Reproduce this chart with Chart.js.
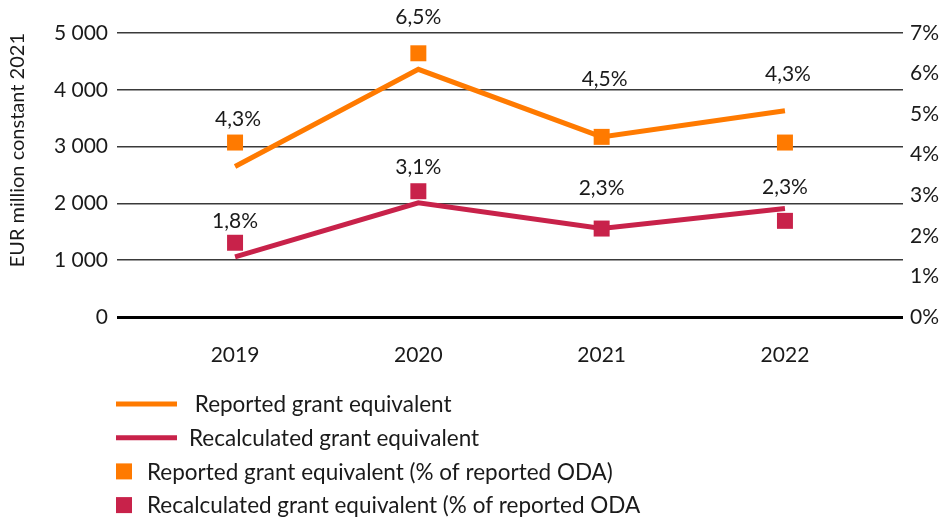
<!DOCTYPE html>
<html><head><meta charset="utf-8">
<script src="https://cdn.jsdelivr.net/npm/chart.js@4/dist/chart.umd.min.js"></script>
<style>html,body{margin:0;padding:0;background:#fff}#wrap{width:942px;height:520px;position:relative}</style>
</head><body><div id="wrap"><canvas id="c" width="942" height="520"></canvas></div>
<script>
const years = ['2019', '2020', '2021', '2022'];
const reportedGE = [2650, 4360, 3170, 3630];
const recalculatedGE = [1060, 2010, 1560, 1910];
const reportedPct = [4.3, 6.5, 4.44, 4.3];
const recalculatedPct = [1.83, 3.1, 2.18, 2.37];
const reportedPctLabels = ['4,3%', '6,5%', '4,5%', '4,3%'];
const recalculatedPctLabels = ['1,8%', '3,1%', '2,3%', '2,3%'];
const leftTicks = [0, 1000, 2000, 3000, 4000, 5000];
const rightTicks = [0, 1, 2, 3, 4, 5, 6, 7];
const seriesNames = [' Reported grant equivalent', 'Recalculated grant equivalent',
  'Reported grant equivalent (% of reported ODA)', 'Recalculated grant equivalent (% of reported ODA'];
const axisTitle = 'EUR million constant 2021';

const ORANGE = '#FF7A00', RED = '#C8224A', TEXT = '#1a1a1a';
const FONT = 'Lato';
const FS = 21;
const LEG_FS = 22.5;

const pts = arr => arr.map((v, i) => ({x: i, y: v}));
const fmtThousands = v => String(v).replace(/\B(?=(\d{3})+(?!\d))/g, '\u00a0');

const labelOffsets = [
  {dx: [3, 0, 3, 3], dy: [-23, -36, -58, -68]},
  {dx: [0, 0, 0, 0], dy: [-22, -24, -40, -34]}
];

const pctLabelsPlugin = {
  id: 'pctLabels',
  afterDatasetsDraw(chart) {
    const ctx = chart.ctx;
    const sets = [[2, reportedPctLabels, labelOffsets[0]], [3, recalculatedPctLabels, labelOffsets[1]]];
    ctx.save();
    ctx.font = FS + 'px ' + FONT;
    ctx.fillStyle = TEXT;
    ctx.textAlign = 'center';
    ctx.textBaseline = 'middle';
    sets.forEach(([di, labels, off]) => {
      chart.getDatasetMeta(di).data.forEach((el, i) => {
        ctx.fillText(labels[i], el.x + off.dx[i], el.y + off.dy[i]);
      });
    });
    ctx.restore();
  }
};

const legendPlugin = {
  id: 'vLegend',
  afterDraw(chart) {
    const ctx = chart.ctx;
    const x0 = 116, y0 = 404, gap = 33.7;
    ctx.save();
    ctx.font = LEG_FS + 'px ' + FONT;
    ctx.fillStyle = TEXT;
    ctx.textBaseline = 'middle';
    chart.data.datasets.forEach((ds, i) => {
      const y = y0 + i * gap;
      if (ds.showLine === false) {
        ctx.fillStyle = ds.pointBackgroundColor;
        ctx.fillRect(x0, y - 8, 16, 16);
        ctx.fillStyle = TEXT;
        ctx.fillText(ds.label, x0 + 31, y + 1);
      } else {
        ctx.strokeStyle = ds.borderColor;
        ctx.lineWidth = 5;
        ctx.beginPath();
        ctx.moveTo(x0, y); ctx.lineTo(x0 + 61, y);
        ctx.stroke();
        ctx.fillStyle = TEXT;
        ctx.fillText(ds.label, x0 + 73, y + 1);
      }
    });
    ctx.restore();
  }
};

new Chart(document.getElementById('c'), {
  type: 'line',
  data: {
    datasets: [
      {label: seriesNames[0], data: pts(reportedGE), yAxisID: 'y', borderColor: ORANGE, backgroundColor: ORANGE,
       borderWidth: 5, pointRadius: 0, borderCapStyle: 'butt', order: 2},
      {label: seriesNames[1], data: pts(recalculatedGE), yAxisID: 'y', borderColor: RED, backgroundColor: RED,
       borderWidth: 5, pointRadius: 0, borderCapStyle: 'butt', order: 2},
      {label: seriesNames[2], data: pts(reportedPct), yAxisID: 'y1', showLine: false, pointStyle: 'rect',
       pointRadius: 11.3, pointBackgroundColor: ORANGE, pointBorderWidth: 0, borderColor: ORANGE, order: 1},
      {label: seriesNames[3], data: pts(recalculatedPct), yAxisID: 'y1', showLine: false, pointStyle: 'rect',
       pointRadius: 11.3, pointBackgroundColor: RED, pointBorderWidth: 0, borderColor: RED, order: 1}
    ]
  },
  options: {
    responsive: false,
    animation: false,
    devicePixelRatio: 1,
    events: [],
    layout: {padding: {top: 33, left: 0, right: 0, bottom: 0}},
    plugins: {legend: {display: false}, tooltip: {enabled: false}},
    scales: {
      x: {
        type: 'linear', min: -0.644, max: 3.644,
        afterBuildTicks: s => { s.ticks = years.map((_, i) => ({value: i})); },
        afterFit: s => { s.height = 203; },
        grid: {display: false}, border: {display: false},
        ticks: {callback: v => years[v], color: TEXT, font: {family: FONT, size: FS}, padding: 18, maxRotation: 0, autoSkip: false}
      },
      y: {
        position: 'left', min: 0, max: 5000,
        afterBuildTicks: s => { s.ticks = leftTicks.map(v => ({value: v})); },
        afterFit: s => { s.width = 117; },
        border: {display: false},
        grid: {drawTicks: false, color: c => c.tick.value === 0 ? '#000' : '#3a3a3a', lineWidth: c => c.tick.value === 0 ? 3 : 1.5},
        ticks: {callback: v => fmtThousands(v), color: TEXT, font: {family: FONT, size: FS}, padding: 9},
        title: {display: true, text: axisTitle, align: 'end', color: TEXT, font: {family: FONT, size: 20}, padding: {top: 6, bottom: 0}}
      },
      y1: {
        position: 'right', min: 0, max: 7,
        afterBuildTicks: s => { s.ticks = rightTicks.map(v => ({value: v})); },
        afterFit: s => { s.width = 39; },
        border: {display: false},
        grid: {display: false, drawTicks: false},
        ticks: {callback: v => v + '%', color: TEXT, font: {family: FONT, size: FS}, padding: 7}
      }
    }
  },
  plugins: [pctLabelsPlugin, legendPlugin]
});
</script>
</body></html>
